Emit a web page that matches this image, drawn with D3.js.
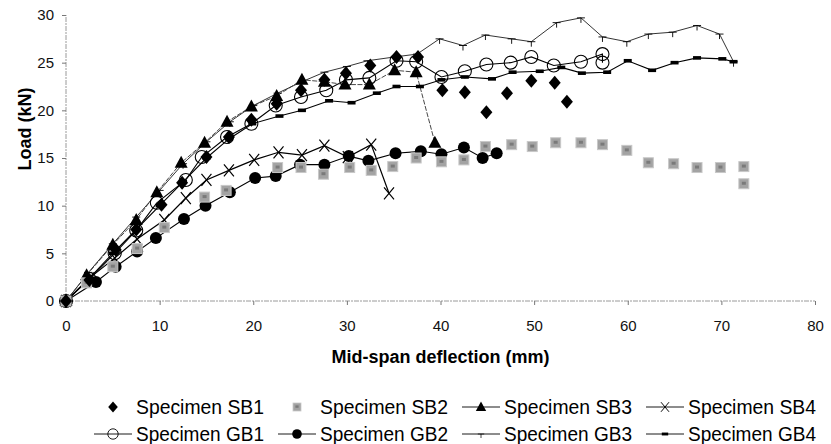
<!DOCTYPE html>
<html>
<head>
<meta charset="utf-8">
<script src="https://cdn.jsdelivr.net/npm/d3@7"></script>
<style>
  body { margin: 0; background: #fff; }
  svg { font-family: "Liberation Sans", Arial, sans-serif; }
</style>
</head>
<body>
<svg width="831" height="444"></svg>
<script>
// load (kN) vs mid-span deflection (mm)
var sb1 = [[0,0],[2.5,2.2],[5.3,5.4],[7.5,7.5],[10.2,10.1],[12.4,12.4],[15.0,15.1],[17.4,17.2],
  [19.8,19.0],[22.5,20.7],[25.1,22.1],[27.6,23.2],[29.9,23.9],[32.5,24.7],[35.3,25.6],[37.6,25.6],
  [40.2,22.1],[42.6,21.9],[44.9,19.8],[47.1,21.8],[49.7,23.1],[52.2,22.9],[53.5,20.9]];
var sb2 = [[0,0],[2.2,1.9],[5.0,3.6],[7.6,5.5],[10.5,7.7],[14.8,10.9],[17.1,11.6],[22.6,14.0],
  [25.1,14.0],[27.5,13.3],[30.3,14.0],[32.6,13.7],[34.9,14.1],[37.4,15.0],[40.1,14.6],[42.5,14.8],
  [44.8,16.2],[47.6,16.4],[49.8,16.2],[52.3,16.6],[55.0,16.6],[57.3,16.4],[59.9,15.8],[62.2,14.5],
  [64.9,14.4],[67.4,14.0],[69.9,14.0],[72.4,14.1],[72.4,12.3]];
var sb3 = [[0,0],[2.2,2.7],[5.0,5.9],[7.5,8.5],[9.7,11.4],[12.3,14.5],[14.8,16.6],[17.2,18.8],
  [19.8,20.4],[22.5,21.5],[25.2,23.2],[27.6,23.0],[29.8,22.7],[32.4,22.7],[35.1,24.2],[37.4,24.0],
  [39.4,16.6]];
var sb4 = [[0,0],[2.5,2.4],[5.2,4.5],[7.6,6.5],[10.5,8.5],[12.8,10.8],[15.0,12.7],[17.4,13.7],
  [20.1,14.8],[22.7,15.6],[25.2,15.3],[27.6,16.3],[30.1,15.1],[32.6,16.4],[34.5,11.3]];
var gb1 = [[0,0],[2.5,2.3],[5.2,5.0],[7.5,7.4],[9.7,10.3],[12.8,12.7],[14.5,15.1],[17.2,17.2],
  [19.8,18.6],[22.4,20.5],[25.1,21.4],[27.8,22.1],[29.9,23.2],[32.4,23.4],[35.3,25.2],[37.4,25.1],
  [40.1,23.5],[42.6,24.1],[44.9,24.8],[47.5,25.0],[49.7,25.6],[52.1,24.7],[55.0,25.1],[57.3,25.9],
  [57.3,25.0]];
var gb2 = [[0,0],[3.2,2.0],[5.3,3.6],[7.6,5.2],[9.6,6.6],[12.6,8.6],[14.9,10.0],[17.5,11.4],
  [20.2,12.9],[22.4,13.1],[25.0,14.3],[27.6,14.3],[30.2,15.2],[32.3,14.7],[35.2,15.5],[37.9,15.7],
  [40.1,15.4],[42.5,16.1],[44.5,15.0],[46.0,15.5]];
var gb3 = [[0,0],[2.4,3.0],[5.0,6.0],[7.5,8.8],[10.0,11.6],[12.5,14.4],[15.0,16.7],[17.5,18.8],
  [20.0,20.5],[22.6,21.8],[25.2,23.0],[27.6,24.0],[30.0,24.6],[32.2,25.2],[35.1,25.6],[37.5,25.9],
  [39.9,27.5],[42.4,26.8],[44.8,27.9],[47.6,27.5],[49.7,27.2],[52.4,29.2],[55.0,29.7],[57.3,27.7],
  [59.9,27.2],[62.2,28.0],[64.8,28.2],[67.4,28.9],[69.8,28.0],[71.3,25.1]];
var gb4 = [[0,0],[2.5,2.4],[5.0,5.0],[7.5,7.5],[10.0,10.0],[12.5,12.5],[15.0,15.0],[17.4,17.0],
  [19.9,18.6],[22.8,19.4],[25.2,20.0],[28.1,21.0],[30.5,20.8],[33.2,21.8],[35.3,22.5],[37.8,22.5],
  [40.1,23.2],[42.6,23.5],[45.5,23.3],[47.7,24.0],[50.6,24.1],[52.9,24.5],[55.1,23.9],[57.8,24.0],
  [60.0,25.2],[62.6,24.2],[65.0,25.0],[67.4,25.5],[70.1,25.4],[71.3,25.1]];

var xTicks = [0, 10, 20, 30, 40, 50, 60, 70, 80];
var yTicks = [0, 5, 10, 15, 20, 25, 30];
var legendRow1 = ["Specimen SB1", "Specimen SB2", "Specimen SB3", "Specimen SB4"];
var legendRow2 = ["Specimen GB1", "Specimen GB2", "Specimen GB3", "Specimen GB4"];

var svg = d3.select("svg");
var x = d3.scaleLinear().domain([0, 80]).range([66, 815]);
var y = d3.scaleLinear().domain([0, 30]).range([301, 15]);

// axes, drawn faint and dashed like the scanned original
var xAxis = svg.append("g")
  .attr("transform", "translate(0," + y(0) + ")")
  .call(d3.axisBottom(x).tickValues(xTicks).tickSize(4).tickPadding(15));
var yAxis = svg.append("g")
  .attr("transform", "translate(" + x(0) + ",0)")
  .call(d3.axisLeft(y).tickValues(yTicks).tickSize(4).tickPadding(8));
[xAxis, yAxis].forEach(function (a) {
  a.select(".domain").attr("stroke", "#9a9a9a").attr("stroke-dasharray", "5,1,2,1");
  a.selectAll(".tick line").attr("stroke", "#777");
  a.selectAll(".tick text").attr("font-size", 15).attr("fill", "#111")
    .attr("font-family", "Liberation Sans, Arial, sans-serif");
});
xAxis.select(".domain").attr("d", "M" + x(0) + ",0H" + x(80));
yAxis.select(".domain").attr("d", "M0," + y(0) + "V" + y(30));

svg.append("text")
  .attr("x", (x(0) + x(80)) / 2).attr("y", 363)
  .attr("text-anchor", "middle").attr("font-size", 18).attr("font-weight", "bold")
  .text("Mid-span deflection (mm)");
svg.append("text")
  .attr("transform", "translate(31,129) rotate(-90)")
  .attr("text-anchor", "middle").attr("font-size", 18).attr("font-weight", "bold")
  .text("Load (kN)");

var line = d3.line().x(function (d) { return x(d[0]); }).y(function (d) { return y(d[1]); });

// marker shapes, centred on 0,0
var shapes = {
  diamond: function (g) { g.append("path").attr("d", "M0,-7L6,0L0,7L-6,0Z").attr("fill", "#000"); },
  square: function (g) {
    g.append("rect").attr("x", -5).attr("y", -5).attr("width", 10).attr("height", 10)
      .attr("fill", "#a3a3a3").attr("stroke", "#c8c8c8").attr("stroke-width", 1);
    g.append("rect").attr("x", -2).attr("y", -2).attr("width", 4).attr("height", 3).attr("fill", "#7a7a7a");
  },
  triangle: function (g) { g.append("path").attr("d", "M0,-7L6.5,5L-6.5,5Z").attr("fill", "#000"); },
  cross: function (g) {
    g.append("path").attr("d", "M-5,-6L5,6M5,-6L-5,6").attr("stroke", "#000").attr("stroke-width", 1.2);
  },
  open: function (g) {
    g.append("circle").attr("r", 6.5).attr("fill", "none").attr("stroke", "#000").attr("stroke-width", 1.1);
  },
  filled: function (g) { g.append("circle").attr("r", 6).attr("fill", "#000"); },
  tick: function (g) {
    g.append("path").attr("d", "M-4,0H4M0,0V5").attr("stroke", "#000").attr("stroke-width", 0.9);
  },
  dash: function (g) { g.append("rect").attr("x", -4).attr("y", -1.8).attr("width", 8).attr("height", 3.6).attr("fill", "#000"); }
};

var series = [
  { data: gb3, shape: "tick", line: 0.8, color: "#000", dash: null },
  { data: gb4, shape: "dash", line: 1.1, color: "#000", dash: null },
  { data: gb1, shape: "open", line: 1.1, color: "#000", dash: null },
  { data: sb3, shape: "triangle", line: 0.9, color: "#333", dash: "5,1.5" },
  { data: sb4, shape: "cross", line: 1.2, color: "#000", dash: null },
  { data: gb2, shape: "filled", line: 1.1, color: "#000", dash: null },
  { data: sb2, shape: "square", line: 0 },
  { data: sb1, shape: "diamond", line: 0 }
];

series.forEach(function (s) {
  if (s.line > 0) {
    svg.append("path").datum(s.data).attr("d", line)
      .attr("fill", "none").attr("stroke", s.color).attr("stroke-width", s.line)
      .attr("stroke-dasharray", s.dash);
  }
});
series.forEach(function (s) {
  svg.append("g").selectAll("g").data(s.data).enter().append("g")
    .attr("transform", function (d) { return "translate(" + x(d[0]) + "," + y(d[1]) + ")"; })
    .each(function () { shapes[s.shape](d3.select(this)); });
});

// legend: Excel-style grid, four equal columns, two rows
var legendItems = [
  { label: legendRow1[0], shape: "diamond", line: false },
  { label: legendRow1[1], shape: "square", line: false },
  { label: legendRow1[2], shape: "triangle", line: true },
  { label: legendRow1[3], shape: "cross", line: true },
  { label: legendRow2[0], shape: "open", line: true },
  { label: legendRow2[1], shape: "filled", line: true },
  { label: legendRow2[2], shape: "tick", line: true },
  { label: legendRow2[3], shape: "dash", line: true }
];
var colX = d3.scaleLinear().domain([0, 3]).range([94, 94 + 3 * 184]);
legendItems.forEach(function (it, i) {
  var row = Math.floor(i / 4), col = i % 4;
  var cy = row === 0 ? 407 : 434;
  var left = colX(col), mid = left + 19;
  var g = svg.append("g");
  if (it.line) {
    g.append("line").attr("x1", left).attr("x2", left + 38).attr("y1", cy).attr("y2", cy)
      .attr("stroke", "#000").attr("stroke-width", 0.9);
  }
  var m = g.append("g").attr("transform", "translate(" + mid + "," + cy + ") scale(0.8)");
  shapes[it.shape](m);
  g.append("text").attr("x", left + 42).attr("y", cy + 7)
    .attr("font-size", 20).attr("textLength", 128).attr("lengthAdjust", "spacingAndGlyphs")
    .text(it.label);
});
</script>
</body>
</html>
